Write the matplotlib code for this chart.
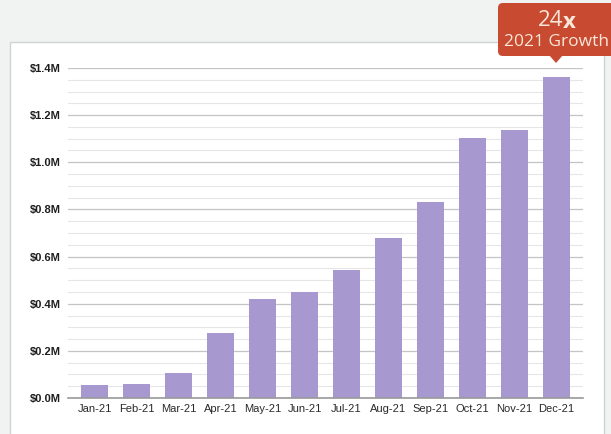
import matplotlib
matplotlib.use("Agg")
import matplotlib.pyplot as plt
from matplotlib.patches import Rectangle, FancyBboxPatch, Polygon
from matplotlib.ticker import MultipleLocator, FuncFormatter

# Данные (млн $)
months = ['Jan-21', 'Feb-21', 'Mar-21', 'Apr-21', 'May-21', 'Jun-21',
          'Jul-21', 'Aug-21', 'Sep-21', 'Oct-21', 'Nov-21', 'Dec-21']
revenue = [0.055, 0.058, 0.105, 0.274, 0.421, 0.448,
           0.543, 0.679, 0.832, 1.103, 1.137, 1.360]
growth_big = '24'
growth_small = '2021 Growth'

W, H = 611, 434
fig = plt.figure(figsize=(W / 100, H / 100), dpi=100)
fig.patch.set_facecolor('#f1f3f3')

def fx(px):
    return px / W

def fy(py):
    return 1 - py / H

# белая карточка
card = Rectangle((fx(10), fy(440)), fx(594), (440 - 42) / H,
                 transform=fig.transFigure, facecolor='white',
                 edgecolor='#cfd2d2', linewidth=1.0, zorder=-1)
fig.patches.append(card)

ax = fig.add_axes([fx(68), fy(398), fx(583 - 68), (398 - 68) / H])
ax.set_facecolor('none')
x = range(len(months))
ax.bar(x, revenue, width=0.65, color='#a798cf', zorder=3)

ax.set_xlim(-0.64, len(months) - 1 + 0.64)
ax.set_ylim(0, 1.4)
ax.yaxis.set_major_locator(MultipleLocator(0.2))
ax.yaxis.set_minor_locator(MultipleLocator(0.05))
ax.yaxis.set_major_formatter(FuncFormatter(lambda v, p: f'${v:.1f}M'))
ax.grid(axis='y', which='major', color='#c4c4c4', linewidth=0.9, zorder=1)
ax.grid(axis='y', which='minor', color='#e6e6e6', linewidth=0.8, zorder=1)

ax.set_xticks(list(x))
ax.set_xticklabels(months)
for s in ['top', 'right', 'left']:
    ax.spines[s].set_visible(False)
ax.spines['bottom'].set_color('#999999')
ax.spines['bottom'].set_linewidth(1.2)
ax.spines['bottom'].set_zorder(4)
ax.tick_params(axis='y', which='both', length=0, pad=5)
ax.tick_params(axis='x', length=0, pad=4)
for lab in ax.get_yticklabels():
    lab.set_fontfamily('Liberation Sans')
    lab.set_fontweight('bold')
    lab.set_fontsize(8)
    lab.set_color('#1e1e1e')
for lab in ax.get_xticklabels():
    lab.set_fontfamily('Liberation Sans')
    lab.set_fontsize(8)
    lab.set_color('#2a2a2a')

# выноска "24x"
box = FancyBboxPatch((fx(498), fy(56)), fx(130), (56 - 3) / H,
                     boxstyle='round,pad=0,rounding_size=0.008',
                     transform=fig.transFigure, facecolor='#c84a30',
                     edgecolor='none', zorder=5, mutation_aspect=W / H)
fig.patches.append(box)
tri = Polygon([(fx(549), fy(55)), (fx(563), fy(55)), (fx(556), fy(63))],
              closed=True, transform=fig.transFigure,
              facecolor='#c84a30', edgecolor='none', zorder=5)
fig.patches.append(tri)
fig.text(fx(563), fy(21), growth_big, ha='right', va='center',
         fontsize=16, family='Open Sans', color='#fbe7d9', zorder=6)
fig.text(fx(563), fy(22), 'x', ha='left', va='center', fontsize=16,
         family='Open Sans', fontweight='bold', color='#fbe7d9', zorder=6)
fig.text(fx(557), fy(42), growth_small, ha='center', va='center',
         fontsize=12.5, family='Open Sans', color='#fbe7d9', zorder=6)

fig.savefig('out.png', dpi=100, facecolor=fig.get_facecolor())
